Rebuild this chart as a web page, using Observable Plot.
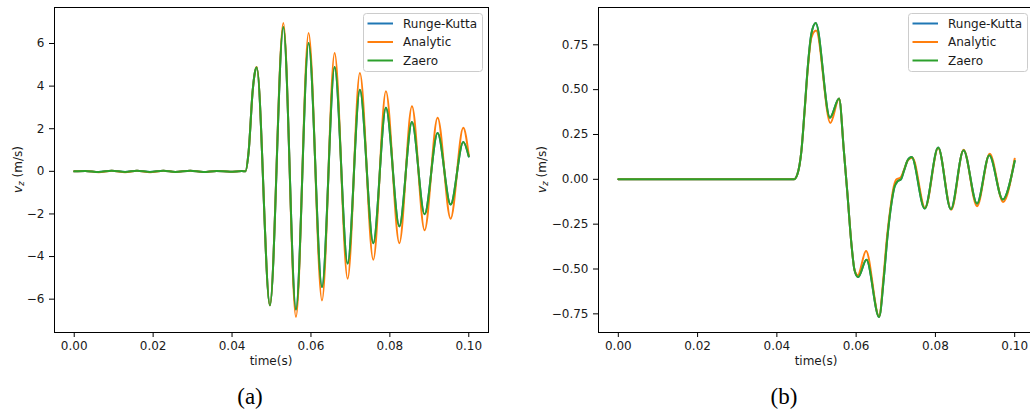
<!DOCTYPE html>
<html>
<head>
<meta charset="utf-8">
<script src="https://cdn.jsdelivr.net/npm/d3@7"></script>
<script src="https://cdn.jsdelivr.net/npm/@observablehq/plot@0.6"></script>
<style>
  html, body { margin: 0; padding: 0; background: #fff; overflow: hidden; }
  #fig { position: relative; width: 1030px; height: 410px; overflow: hidden; background: #fff; }
  #pa { position: absolute; left: 0; top: 0; }
  #pb { position: absolute; left: 520px; top: 0; width: 510px; overflow: hidden; }
  #fig svg { max-width: none !important; }
  #overlay { position: absolute; left: 0; top: 0; pointer-events: none; }
</style>
</head>
<body>
<div id="fig">
  <div id="pa"></div>
  <div id="pb"></div>
</div>
<script>
// ---------- data ----------
const series = ["Runge-Kutta", "Analytic", "Zaero"];
const colors = ["#1f77b4", "#ff7f0e", "#2ca02c"];
const panelLabels = ["(a)", "(b)"];
const xLabel = "time(s)";
const xTicks = [0, 0.02, 0.04, 0.06, 0.08, 0.10];
const yTicksA = [-6, -4, -2, 0, 2, 4, 6];
const yTicksB = [-0.75, -0.5, -0.25, 0, 0.25, 0.5, 0.75];

// panel (a): shared time stamps
const tA = [0, 0.0028, 0.0062, 0.0095, 0.0129, 0.0159, 0.0192, 0.0226, 0.0256, 0.0294, 0.0327, 0.0361, 0.0395, 0.0425,
  0.0434, 0.0442, 0.04524, 0.04574, 0.04625, 0.0496, 0.0530, 0.0562, 0.0594, 0.0628, 0.0660, 0.0693, 0.0724, 0.0758,
  0.0790, 0.0824, 0.0856, 0.0888, 0.0921, 0.0954, 0.0986, 0.1000];
const analyticA = [0, 0.02, -0.04, 0.03, -0.04, 0.03, -0.04, 0.03, -0.03, 0.03, -0.03, 0.02, -0.02, 0.01,
  0, 0.91, 3.8, 4.59, 4.9, -6.29, 6.96, -6.84, 6.49, -6.06, 5.55, -5.04, 4.61, -4.15,
  3.76, -3.37, 3.05, -2.77, 2.52, -2.22, 2.05, 0.75];
const zaeroA = [0, 0.02, -0.03, 0.03, -0.03, 0.03, -0.03, 0.03, -0.03, 0.03, -0.03, 0.02, -0.02, 0.01,
  0, 0.91, 3.8, 4.59, 4.87, -6.29, 6.77, -6.49, 6.02, -5.43, 4.90, -4.33, 3.83, -3.37,
  2.99, -2.58, 2.31, -2.02, 1.80, -1.56, 1.38, 0.70];
// Runge-Kutta lies exactly beneath the Zaero curve in the picture
const rungeKuttaA = zaeroA;

// panel (b)
const tZaeroB = [0, 0.0443, 0.0452, 0.0462, 0.0470, 0.0478, 0.0487, 0.0498, 0.0534, 0.0557, 0.0569, 0.0578, 0.0588,
  0.0596, 0.0605, 0.0626, 0.0658, 0.0670, 0.0679, 0.0689, 0.0697, 0.0705, 0.0713, 0.0721, 0.0730, 0.0740, 0.0773,
  0.0807, 0.0839, 0.0871, 0.0905, 0.0936, 0.0970, 0.1000];
const zaeroB = [0, 0, 0.03, 0.16, 0.385, 0.626, 0.81, 0.871, 0.344, 0.45, 0.16, -0.08, -0.358,
  -0.507, -0.545, -0.448, -0.767, -0.545, -0.32, -0.135, -0.04, -0.01, 0.0, 0.05, 0.106, 0.124, -0.163,
  0.177, -0.167, 0.162, -0.136, 0.134, -0.113, 0.102];
const tAnalyticB = [0, 0.0443, 0.0452, 0.0462, 0.0470, 0.0478, 0.0487, 0.0499, 0.0535, 0.0557, 0.0569, 0.0578, 0.0588,
  0.0596, 0.0604, 0.0625, 0.0658, 0.0669, 0.0678, 0.0688, 0.0695, 0.0702, 0.0712, 0.0722, 0.0731, 0.0742, 0.0774,
  0.0807, 0.0840, 0.0871, 0.0905, 0.0937, 0.0971, 0.1000];
const analyticB = [0, 0, 0.03, 0.16, 0.38, 0.615, 0.79, 0.83, 0.314, 0.45, 0.16, -0.08, -0.358,
  -0.505, -0.535, -0.40, -0.765, -0.545, -0.32, -0.135, -0.04, 0.0, 0.01, 0.06, 0.108, 0.12, -0.16,
  0.175, -0.17, 0.165, -0.15, 0.143, -0.126, 0.115];
const tRungeKuttaB = tZaeroB;
const rungeKuttaB = zaeroB;

// ---------- build tables ----------
function rows(name, t, v) { return t.map((d, i) => ({series: name, t: d, v: v[i]})); }
const dataA = [
  ...rows(series[0], tA, rungeKuttaA),
  ...rows(series[1], tA, analyticA),
  ...rows(series[2], tA, zaeroA)
];
const dataB = [
  ...rows(series[0], tRungeKuttaB, rungeKuttaB),
  ...rows(series[1], tAnalyticB, analyticB),
  ...rows(series[2], tZaeroB, zaeroB)
];

const font = "'DejaVu Sans', sans-serif";
const fmt2 = d3.format(".2f");
const fmt0 = d3.format("d");

function panel({data, width, marginLeft, marginRight, yDomain, yTicks, yFormat}) {
  return Plot.plot({
    width, height: 372,
    marginTop: 7, marginBottom: 40, marginLeft, marginRight,
    style: {fontFamily: font, fontSize: "12px", color: "#1a1a1a", background: "transparent", overflow: "visible", maxWidth: "none"},
    x: {domain: [-0.005, 0.105], label: null},
    y: {domain: yDomain, label: null},
    color: {domain: series, range: colors},
    marks: [
      Plot.line(data, {x: "t", y: "v", z: "series", stroke: "series", curve: "monotone-x",
        strokeWidth: 2, strokeLinejoin: "round", strokeLinecap: "round"}),
      Plot.frame({stroke: "#000", strokeWidth: 1}),
      Plot.axisX({ticks: xTicks, tickFormat: fmt2, tickSize: 5, tickPadding: 4, label: null, stroke: "#000"}),
      Plot.axisY({ticks: yTicks, tickFormat: yFormat, tickSize: 5, tickPadding: 5, label: null, stroke: "#000"})
    ]
  });
}

const svgA = panel({data: dataA, width: 500, marginLeft: 54, marginRight: 12,
  yDomain: [-7.565, 7.69], yTicks: yTicksA, yFormat: fmt0});
const svgB = panel({data: dataB, width: 514, marginLeft: 78, marginRight: 0,
  yDomain: [-0.854, 0.958], yTicks: yTicksB, yFormat: fmt2});
document.getElementById("pa").appendChild(svgA);
document.getElementById("pb").appendChild(svgB);

function axisTitles(svg, xCenter, yLabelX) {
  const s = d3.select(svg);
  s.append("text").attr("x", xCenter).attr("y", 365).attr("text-anchor", "middle")
    .attr("font-family", font).attr("font-size", 12).attr("fill", "#1a1a1a").text(xLabel);
  const yl = s.append("text").attr("transform", `translate(${yLabelX},169.5) rotate(-90)`)
    .attr("text-anchor", "middle").attr("font-family", font).attr("font-size", 12).attr("fill", "#1a1a1a");
  yl.append("tspan").attr("font-style", "italic").text("v");
  yl.append("tspan").attr("font-style", "italic").attr("font-size", 8.5).attr("dy", 2.5).text("z");
  yl.append("tspan").attr("dy", -2.5).text(" (m/s)");
}
axisTitles(svgA, 271, 21.5);
axisTitles(svgB, 296, 25.7);

// ---------- overlay: legends & captions ----------
const ov = d3.select("#fig").append("svg").attr("id", "overlay").attr("width", 1030).attr("height", 410);
function legend(x0, y0) {
  const g = ov.append("g");
  g.append("rect").attr("x", x0 + 0.5).attr("y", y0 + 0.5).attr("width", 119).attr("height", 58).attr("rx", 3)
    .attr("fill", "#fff").attr("fill-opacity", 0.8).attr("stroke", "#cccccc");
  series.forEach((name, i) => {
    const yy = y0 + 10.5 + i * 18.5;
    g.append("line").attr("x1", x0 + 4.5).attr("x2", x0 + 30).attr("y1", yy).attr("y2", yy)
      .attr("stroke", colors[i]).attr("stroke-width", 2);
    g.append("text").attr("x", x0 + 40).attr("y", yy).attr("dy", "0.36em")
      .attr("font-family", font).attr("font-size", 12).attr("fill", "#1a1a1a").text(name);
  });
}
legend(363, 13);
legend(908, 13);

[[250, panelLabels[0]], [784, panelLabels[1]]].forEach(([x, t]) => {
  ov.append("text").attr("x", x).attr("y", 404).attr("text-anchor", "middle")
    .attr("font-family", "'Liberation Serif', 'Times New Roman', serif").attr("font-size", 23)
    .attr("fill", "#000").text(t);
});
</script>
</body>
</html>
